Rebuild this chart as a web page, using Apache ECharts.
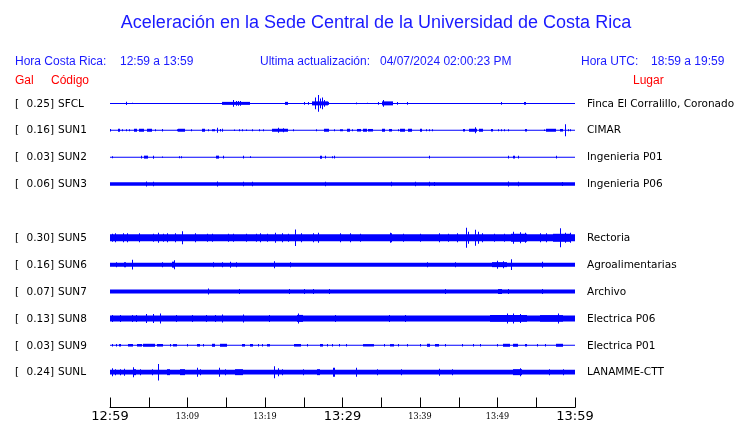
<!DOCTYPE html>
<html>
<head>
<meta charset="utf-8">
<script src="https://cdn.jsdelivr.net/npm/echarts@6/dist/echarts.min.js"></script>
<style>html,body{margin:0;padding:0;background:#fff}#c{width:740px;height:423px}</style>
</head>
<body>
<div id="c"></div>
<script>
// ---------------- DATA ----------------
const titleText = 'Aceleración en la Sede Central de la Universidad de Costa Rica';
const horaCR = '12:59 a 13:59';
const horaUTC = '18:59 a 19:59';
const updated = '04/07/2024 02:00:23 PM';
// minutes after 12:59 -> labels every 10 minutes
const tickLabels = ['12:59', '13:09', '13:19', '13:29', '13:39', '13:49', '13:59'];

const codes  = ['SFCL', 'SUN1', 'SUN2', 'SUN3', 'SUN5', 'SUN6', 'SUN7', 'SUN8', 'SUN9', 'SUNL'];
const peakGal = ['0.25', '0.16', '0.03', '0.06', '0.30', '0.16', '0.07', '0.13', '0.03', '0.24'];
const places = ['Finca El Corralillo, Coronado', 'CIMAR', 'Ingenieria P01', 'Ingenieria P06',
  'Rectoria', 'Agroalimentarias', 'Archivo', 'Electrica P06', 'Electrica P01', 'LANAMME-CTT'];
const rows = [0, 1, 2, 3, 5, 6, 7, 8, 9, 10];          // row of each trace (row 4 = SUN4, empty)
const noise = [0.5, 0.5, 0.5, 1.7, 3.6, 2, 2, 3, 0.5, 2.3]; // background half-amplitude

// bursts: [start minute, end minute, half-amplitude]; single spikes have start == end
const evSFCL = [[2.0,2.0,1.7],[2.8,2.8,0.7],[14.5,18.1,1.5],[15.9,15.9,3.3],[16.3,16.3,2.5],[16.5,16.5,2.5],
  [16.8,16.8,2.5],[22.6,23.0,1.5],[25.0,25.0,1.5],[25.5,25.5,1.5],[26.1,28.1,2],[26.5,26.5,6],[26.9,26.9,8.5],
  [27.1,27.1,5],[27.3,27.3,6],[27.6,27.6,3.5],[27.9,28.2,1.5],[31.7,31.7,1],[33.2,33.2,0.7],[34.6,34.6,1.3],
  [35.1,36.5,2],[35.2,35.2,3.3],[37.0,37.0,1.3],[38.3,38.3,1.5],[50.4,50.4,1.5],[53.4,53.7,1.5]];
const evSUN1 = [[0.0,0.0,1.3],[1.0,1.3,1.5],[1.5,1.5,1],[2.0,2.0,1],[2.5,2.5,1],[3.1,3.5,1.5],[3.7,4.4,1.5],
  [4.8,5.4,1.5],[5.8,5.8,1],[6.7,6.7,1.3],[8.6,8.6,1],[8.8,9.7,1.5],[10.5,10.5,1],[11.9,12.3,1.5],[12.6,12.6,1],
  [13.2,13.5,1],[13.8,13.8,2.5],[14.2,14.2,1.2],[14.5,14.5,1.5],[16.0,16.0,0.8],[16.6,16.6,1],[17.0,17.0,1],
  [17.5,17.5,0.8],[18.3,18.3,1],[19.2,19.2,1],[19.7,19.7,1],[20.9,23.0,1.5],[21.7,21.7,2.5],[22.3,22.3,2],
  [23.6,23.6,1],[26.6,26.6,1],[27.6,28.3,1.5],[28.9,28.9,1],[29.7,30.0,1],[30.6,31.0,1.5],[31.2,31.2,1],
  [31.9,32.4,1.3],[32.6,33.2,1.5],[33.3,33.9,1.3],[35.1,35.5,1.5],[36.0,36.4,1.3],[37.2,37.2,1],[37.4,38.1,1.5],
  [38.5,39.0,1.5],[40.0,40.3,1.5],[40.8,40.8,1],[41.1,41.1,1],[41.5,41.5,1],[45.5,45.8,1.3],[46.3,47.4,1.5],
  [47.1,47.1,3],[47.6,48.1,1.5],[49.1,49.4,1.2],[50.1,50.1,1],[50.5,50.5,1],[50.9,50.9,1],[51.3,51.3,1],
  [53.5,53.8,1.3],[56.0,56.0,0.7],[56.3,57.6,1.5],[58.1,58.5,1.3],[58.7,58.7,6],[59.1,59.1,1],[59.4,59.4,1]];
const evSUN2 = [[0.3,0.3,1],[4.0,4.0,1.3],[4.4,4.9,1.5],[5.6,5.6,1.5],[6.7,6.7,0.7],[8.9,8.9,1],[9.2,9.2,1],
  [13.7,14.1,1.5],[14.6,14.6,1.3],[17.2,17.2,1.3],[18.1,18.1,0.8],[27.1,27.4,1.5],[27.7,27.7,1.3],[28.7,28.7,1],
  [28.9,28.9,1.3],[41.2,41.2,1.3],[51.4,51.4,1.3],[52.0,52.3,1.3],[52.6,52.6,1.3],[57.6,57.6,1.3]];
const evSUN3 = [[4.6,4.6,2.5],[5.6,5.6,2.3],[13.8,13.8,2.5],[17.2,17.2,2.3],[18.3,18.3,2.3],[27.7,27.7,2.3],
  [36.3,36.3,2.3],[39.3,39.3,2.3],[41.2,41.2,2.3],[41.8,41.8,2],[51.4,51.4,2.5],[52.7,52.7,2.3],[58.3,58.3,2]];
const evSUN5 = [[0.2,0.2,4],[0.6,0.6,4.5],[1.7,1.7,4.5],[2.2,2.2,4.5],[3.7,3.7,4.5],[5.6,5.6,4],[6.2,6.2,5],
  [6.9,6.9,4],[7.3,7.3,4.5],[8.4,8.4,4.5],[9.3,9.3,6.5],[11.0,11.0,4.5],[12.5,12.5,4],[13.1,13.1,4],
  [15.2,15.2,4],[15.9,15.9,4],[17.6,17.6,4],[18.9,18.9,4],[19.4,19.4,4.5],[20.3,20.3,4],[21.3,21.3,5],
  [22.2,22.2,4.5],[23.0,23.0,4],[23.9,23.9,8.3],[24.7,24.7,4.5],[26.2,26.2,4.5],[26.9,26.9,5],[29.7,29.7,4.5],
  [31.0,31.0,4.5],[32.3,32.3,4],[36.1,36.1,5],[36.3,36.3,4.5],[37.8,37.8,4],[40.0,40.0,4],[42.5,42.5,4.5],
  [43.6,43.6,4],[44.8,44.8,4.5],[45.9,45.9,10],[46.2,46.2,6],[47.1,47.1,8],[47.5,47.5,6],[48.0,48.0,4.5],
  [49.5,49.5,4],[50.8,50.8,4],[51.8,53.8,4],[52.0,52.0,6],[52.9,52.9,5.5],[53.5,53.5,5],[55.5,55.5,4.5],
  [56.3,56.3,4.5],[57.2,59.4,4],[58.1,58.1,9.5],[58.7,58.7,5],[59.4,59.4,5]];
const evSUN6 = [[0.8,0.8,2.5],[1.8,2.1,2.5],[2.8,2.8,5],[6.7,6.7,2.5],[8.0,8.4,3],[8.2,8.2,4.5],[13.3,13.3,2.5],
  [14.5,14.5,2.5],[15.5,15.5,3],[16.3,16.3,2.5],[21.1,21.1,3.5],[23.2,23.2,2.5],[40.9,40.9,2.5],[44.5,44.5,2.5],
  [49.3,51.2,2.5],[49.9,49.9,4],[50.7,50.7,3.5],[51.8,51.8,5.5],[55.8,55.8,3]];
const evSUN7 = [[12.6,12.6,3],[16.7,16.7,2.5],[23.1,23.1,2.5],[25.0,25.0,2.5],[26.2,26.2,2.5],[28.2,28.2,2.5],
  [43.2,43.2,2.5],[50.1,50.6,2.5],[51.4,51.4,2.5],[55.7,55.7,2.5]];
const evSUN8 = [[0.2,0.2,3.5],[1.3,1.3,3.5],[2.8,2.8,3.5],[3.4,3.4,3.5],[4.7,4.7,4.5],[5.6,5.6,4.5],[6.5,6.5,5],
  [8.5,8.5,3.5],[10.6,10.6,3.5],[12.4,12.4,3.5],[13.5,13.5,3.5],[14.4,14.4,4],[17.2,17.2,4],[20.5,20.5,3.5],
  [24.1,24.9,3.5],[24.3,24.3,5],[29.0,29.0,3.5],[36.0,36.0,3.5],[38.0,38.0,3.5],[49.0,53.8,3.3],
  [51.2,51.2,5],[52.0,52.0,5],[52.9,52.9,4.5],[55.5,58.5,3.3],[57.8,57.8,5]];
const evSUN9 = [[0.2,0.2,1.3],[0.8,0.8,1.3],[1.2,1.4,1.3],[2.3,3.0,1.3],[3.5,4.1,1.3],[4.3,5.8,1.5],[6.0,6.9,1.3],
  [7.7,7.7,1.2],[8.1,8.6,1.2],[9.9,9.9,1.3],[11.2,11.6,1.3],[12.0,12.0,1.3],[13.1,13.5,1.5],[14.2,15.1,1.5],
  [17.0,17.4,1.3],[18.1,18.5,1.3],[19.1,19.1,1.2],[19.6,19.6,1.2],[20.2,20.6,1.2],[23.7,24.7,1.3],[25.4,25.4,1.2],
  [27.1,27.5,1.3],[28.0,28.0,1.3],[28.6,28.8,1.2],[29.5,29.5,1.2],[30.5,30.5,1.2],[32.7,34.0,1.2],[35.3,35.3,1.2],
  [36.1,36.6,1.2],[37.2,37.2,1.2],[38.3,38.3,1.2],[40.0,40.0,1.3],[40.9,41.3,1.5],[41.9,42.4,1.3],[43.2,43.2,1.2],
  [45.4,45.4,1.2],[46.9,46.9,1.2],[47.7,47.7,1.2],[49.9,49.9,1.3],[50.7,51.6,1.5],[52.0,52.7,1.5],[53.5,53.8,1.3],
  [55.1,55.1,1.2],[56.1,56.1,1.3],[57.6,58.5,1.5]];
const evSUNL = [[0.2,0.2,4],[0.6,0.6,3],[1.3,1.3,3],[1.8,1.8,3.5],[3.0,3.4,3],[3.0,3.0,5],[3.9,3.9,3],
  [5.4,5.4,3],[6.2,6.2,8.3],[7.3,7.7,3],[9.0,9.7,3],[11.2,11.2,4.5],[11.6,11.6,3],[14.0,14.0,4.5],
  [14.9,14.9,3],[16.1,17.2,3],[21.1,21.1,6],[21.7,21.7,4],[22.2,22.2,3],[24.9,24.9,3],[26.7,27.1,3],
  [28.8,29.0,4.5],[31.8,31.8,4.5],[34.4,34.4,3],[37.6,37.6,3],[42.4,42.4,3.5],[44.1,44.1,3],[52.0,53.1,3],
  [52.9,52.9,4],[56.7,56.7,3],[58.4,58.4,3]];
const events = [evSFCL, evSUN1, evSUN2, evSUN3, evSUN5, evSUN6, evSUN7, evSUN8, evSUN9, evSUNL];

// ---------------- CHART ----------------
const ROW = 27;          // axis units between two trace rows
const BLUE = '#0000ff';
const TXT_BLUE = '#1a1aff';

const items = [];
codes.forEach((c, k) => {
  items.push([rows[k], 0, 60, noise[k]]);
  events[k].forEach(e => items.push([rows[k], e[0], e[1], e[2]]));
});

function renderItem(params, api) {
  const off = api.value(0) * ROW;
  const a = api.value(3);
  const p0 = api.coord([api.value(1), off - a]);
  const p1 = api.coord([api.value(2), off + a]);
  let x0 = Math.round(p0[0]);
  let x1 = Math.round(p1[0]);
  if (x1 - x0 < 1) x1 = x0 + 1;
  return { type: 'rect', shape: { x: x0, y: p0[1], width: x1 - x0, height: p1[1] - p0[1] },
           style: { fill: BLUE } };
}

const chart = echarts.init(document.getElementById('c'), null, { renderer: 'canvas' });
const option = {
  animation: false,
  backgroundColor: '#fff',
  grid: { left: 110, width: 465, top: 76.5, height: 332.5 },
  xAxis: {
    type: 'value', min: 0, max: 60, interval: 5, position: 'bottom',
    axisLine: { show: true, onZero: false, lineStyle: { color: '#000', width: 1 } },
    axisTick: { show: true, inside: true, length: 10, lineStyle: { color: '#000' } },
    splitLine: { show: false },
    axisLabel: {
      margin: 2, showMinLabel: true, showMaxLabel: true,
      formatter: v => {
        if (v % 10 !== 0) return '';
        const l = tickLabels[v / 10];
        return v % 30 === 0 ? '{b|' + l + '}' : '{s|' + l + '}';
      },
      rich: {
        b: { fontFamily: 'DejaVu Sans', fontSize: 13, color: '#000', lineHeight: 14 },
        s: { fontFamily: 'DejaVu Serif Condensed', fontSize: 9, color: '#000', lineHeight: 14 }
      }
    }
  },
  yAxis: { type: 'value', min: -ROW, max: 305.5, inverse: true, show: false, splitLine: { show: false } },
  series: [{
    type: 'custom', renderItem: renderItem, data: items,
    encode: { x: [1, 2], y: 3 }, clip: false, silent: true
  }]
};
chart.setOption(option);

// texts
const hdr = (x, y, text, color, size, align) => ({
  type: 'text', x: x, y: y,
  style: { text: text, fill: color, fontFamily: 'Liberation Sans, Arial, sans-serif', fontSize: size,
           textAlign: align || 'left', textVerticalAlign: 'middle' }
});
const graphic = [
  hdr(376, 23, titleText, TXT_BLUE, 18, 'center'),
  hdr(15, 62, 'Hora Costa Rica:', TXT_BLUE, 12),
  hdr(120, 62, horaCR, TXT_BLUE, 12),
  hdr(260, 62, 'Ultima actualización:', TXT_BLUE, 12),
  hdr(380, 62, updated, TXT_BLUE, 12),
  hdr(581, 62, 'Hora UTC:', TXT_BLUE, 12),
  hdr(651, 62, horaUTC, TXT_BLUE, 12),
  hdr(15, 81, 'Gal', '#ff0000', 12),
  hdr(51, 81, 'Código', '#ff0000', 12),
  hdr(633, 81, 'Lugar', '#ff0000', 12)
];
const lbl = (x, y, text, align) => ({
  type: 'text', x: x, y: y,
  style: { text: text, fill: '#000', fontFamily: 'DejaVu Sans', fontSize: 10.5,
           textAlign: align || 'left', textVerticalAlign: 'middle' }
});
codes.forEach((c, k) => {
  const y = chart.convertToPixel({ gridIndex: 0 }, [0, rows[k] * ROW])[1] + 0.5;
  graphic.push(lbl(15, y, '['));
  graphic.push(lbl(54, y, peakGal[k] + ']', 'right'));
  graphic.push(lbl(58, y, c));
  graphic.push(lbl(587, y, places[k]));
});
chart.setOption({ graphic: graphic });
</script>
</body>
</html>
